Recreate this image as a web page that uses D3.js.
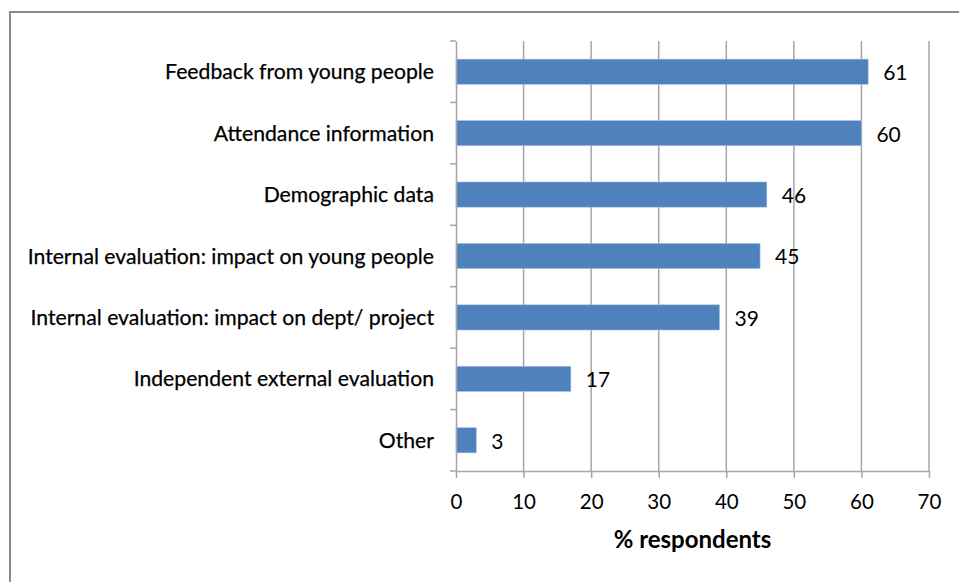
<!DOCTYPE html>
<html><head><meta charset="utf-8">
<script src="https://cdn.jsdelivr.net/npm/d3@7"></script>
<style>
html,body{margin:0;padding:0;background:#fff;}
svg{display:block;}
text{font-family:Lato,"Open Sans",sans-serif;fill:#000;}
</style></head>
<body><svg id="c" width="959" height="582"></svg>
<script>
const categories = ["Feedback from young people","Attendance information","Demographic data","Internal evaluation: impact on young people","Internal evaluation: impact on dept/ project","Independent external evaluation","Other"];
const values = [61,60,46,45,39,17,3];
const xTicks = [0,10,20,30,40,50,60,70];
const xTitle = "% respondents";

const svg = d3.select("#c");
const m = {left:456, right:929, top:41, bottom:471};

// outer frame
svg.append("path").attr("d","M10,582 V12 H959").attr("fill","none").attr("stroke","#8c8c8c").attr("stroke-width",2);

const x = d3.scaleLinear().domain([0,70]).range([m.left,m.right]);
const y = d3.scaleBand().domain(categories).range([m.top,m.bottom]).paddingInner(0.59).paddingOuter(0.295);
const yb = d3.scaleBand().domain(categories).range([m.top,m.bottom]);

// gridlines
svg.append("g").selectAll("line").data(xTicks.slice(1)).join("line")
  .attr("x1",d=>x(d)).attr("x2",d=>x(d)).attr("y1",m.top).attr("y2",m.bottom)
  .attr("stroke","#a6a6a6").attr("stroke-width",1.5);

// bars
svg.append("g").selectAll("rect").data(values).join("rect")
  .attr("x",x(0)).attr("y",(d,i)=>y(categories[i]))
  .attr("width",d=>x(d)-x(0)).attr("height",y.bandwidth())
  .attr("fill","#4f81bd").attr("stroke","#a9c0df").attr("stroke-width",0.6);

// x axis
const xa = svg.append("g").attr("transform",`translate(0,${m.bottom})`)
  .call(d3.axisBottom(x).tickValues(xTicks).tickSize(7).tickSizeOuter(0));
xa.select(".domain").attr("stroke","#a6a6a6").attr("stroke-width",1.5);
xa.selectAll(".tick line").attr("stroke","#a6a6a6").attr("stroke-width",1.5);
xa.selectAll("text").attr("font-size",20.5).attr("fill","#000").attr("dy",null).attr("y",38);

// y axis
const ya = svg.append("g").attr("transform",`translate(${m.left},0)`)
  .call(d3.axisLeft(yb).tickSize(0).tickPadding(22));
ya.select(".domain").attr("stroke","#a6a6a6").attr("stroke-width",1.5);
ya.selectAll("text").attr("font-size",21.2).attr("fill","#000").attr("dy","0.36em")
  .attr("stroke","#000").attr("stroke-width",0.25);
// boundary ticks
const bounds = categories.map(c=>yb(c)).concat([m.bottom]);
svg.append("g").selectAll("line").data(bounds).join("line")
  .attr("x1",m.left-6).attr("x2",m.left).attr("y1",d=>d).attr("y2",d=>d)
  .attr("stroke","#a6a6a6").attr("stroke-width",1.5);

// value labels
svg.append("g").selectAll("text").data(values).join("text")
  .attr("x",d=>x(d)+15).attr("y",(d,i)=>yb(categories[i])+yb.bandwidth()/2)
  .attr("dy","0.4em").attr("font-size",21).text(d=>d);

// axis title
svg.append("text").attr("x",(m.left+m.right)/2).attr("y",548).attr("text-anchor","middle")
  .attr("font-size",24).attr("font-weight",700).text(xTitle);
</script></body></html>
